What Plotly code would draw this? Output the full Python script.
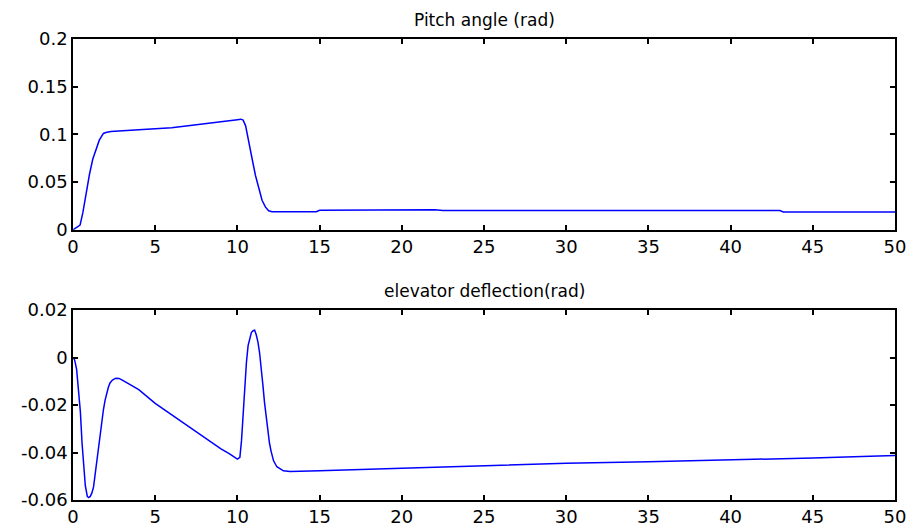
"""Pitch angle and elevator deflection response, MATLAB-style two-panel plot."""
import plotly.graph_objects as go

# --- data ---
t_pitch = [0, 0.2, 0.43, 0.6, 0.8, 1.0, 1.2, 1.44, 1.6, 1.85, 2.0, 2.3, 3, 4, 5, 6, 7, 8, 9,
           9.6, 10.0, 10.2, 10.35, 10.5, 10.7, 10.9, 11.1, 11.3, 11.5, 11.7, 11.9, 12.1,
           14.8, 15.0, 22.0, 22.5, 43.0, 43.2, 50]
pitch = [0, 0.002, 0.005, 0.018, 0.04, 0.058, 0.074, 0.087, 0.094, 0.101, 0.102, 0.103,
         0.104, 0.105, 0.106, 0.107, 0.109, 0.111, 0.113, 0.114, 0.1155, 0.116, 0.115,
         0.109, 0.093, 0.074, 0.057, 0.043, 0.031, 0.024, 0.020, 0.019,
         0.019, 0.0205, 0.021, 0.0202, 0.0202, 0.0188, 0.0188]

t_elev = [0, 0.1, 0.22, 0.35, 0.45, 0.55, 0.65, 0.75, 0.87, 0.95, 1.05, 1.15, 1.25, 1.35,
          1.45, 1.55, 1.65, 1.75, 1.85, 1.95, 2.05, 2.15, 2.25, 2.4, 2.6, 2.8, 3.0, 4.0,
          5.0, 6, 7, 8, 9, 9.5, 10.0, 10.15, 10.25, 10.35, 10.45, 10.55, 10.65, 10.75,
          10.85, 10.95, 11.05, 11.15, 11.25, 11.35, 11.45, 11.55, 11.65, 11.75, 11.85,
          11.95, 12.05, 12.2, 12.4, 12.6, 12.8, 13.2, 14, 15, 20, 25, 30, 35, 40, 45, 50]
elev = [0, -0.001, -0.005, -0.014, -0.023, -0.036, -0.047, -0.054, -0.0585, -0.059,
        -0.0585, -0.057, -0.0545, -0.049, -0.043, -0.037, -0.032, -0.027, -0.022, -0.018,
        -0.015, -0.0125, -0.0107, -0.0095, -0.0087, -0.0088, -0.0095, -0.0135, -0.0193,
        -0.0241, -0.0289, -0.0337, -0.0385, -0.0405, -0.0428, -0.042, -0.035, -0.024,
        -0.012, -0.002, 0.005, 0.0085, 0.0105, 0.0113, 0.0115, 0.0095, 0.0065, 0.002,
        -0.004, -0.0115, -0.019, -0.025, -0.031, -0.036, -0.0395, -0.0435, -0.046, -0.047,
        -0.0477, -0.048, -0.048, -0.0477, -0.0466, -0.0455, -0.0445, -0.0439, -0.0432,
        -0.0423, -0.0413]

x_ticks = [0, 5, 10, 15, 20, 25, 30, 35, 40, 45, 50]
pitch_ticks = [0, 0.05, 0.1, 0.15, 0.2]
pitch_labels = ["0", "0.05", "0.1", "0.15", "0.2"]
elev_ticks = [-0.06, -0.04, -0.02, 0, 0.02]
elev_labels = ["-0.06", "-0.04", "-0.02", "0", "0.02"]

titles = ["Pitch angle (rad)", "elevator deflection(rad)"]

FONT = "DejaVu Sans"
BLUE = "#0000ff"

fig = go.Figure()
fig.add_trace(go.Scatter(x=t_pitch, y=pitch, mode="lines", xaxis="x", yaxis="y",
                         line=dict(color=BLUE, width=1.5), showlegend=False))
fig.add_trace(go.Scatter(x=t_elev, y=elev, mode="lines", xaxis="x2", yaxis="y2",
                         line=dict(color=BLUE, width=1.5), showlegend=False))

axis_style = dict(showline=True, linecolor="black", linewidth=1.5, mirror="ticks",
                  ticks="inside", ticklen=5, tickwidth=1.5, tickcolor="black",
                  showgrid=False, zeroline=False, automargin=False,
                  tickfont=dict(family=FONT, size=18, color="black"))

fig.update_layout(
    width=911, height=527,
    margin=dict(l=73, r=16, t=39, b=27),
    paper_bgcolor="white", plot_bgcolor="white",
    xaxis=dict(domain=[0, 1], range=[0, 50], tickvals=x_ticks, anchor="y", **axis_style),
    yaxis=dict(domain=[0.586, 1], range=[0, 0.2], tickvals=pitch_ticks,
               ticktext=pitch_labels, anchor="x", **axis_style),
    xaxis2=dict(domain=[0, 1], range=[0, 50], tickvals=x_ticks, anchor="y2", **axis_style),
    yaxis2=dict(domain=[0, 0.412], range=[-0.06, 0.02], tickvals=elev_ticks,
                ticktext=elev_labels, anchor="x2", **axis_style),
    annotations=[
        dict(text=titles[0], x=0.5, xref="paper", y=1, yref="paper", yshift=7,
             yanchor="bottom", showarrow=False,
             font=dict(family=FONT, size=17, color="black")),
        dict(text=titles[1], x=0.5, xref="paper", y=0.412, yref="paper", yshift=7,
             yanchor="bottom", showarrow=False,
             font=dict(family=FONT, size=17, color="black")),
    ],
)

# drop the default 8px body margin so the 911x527 figure fills the window exactly
fig.write_html("out.html",
               config={"displayModeBar": False},
               post_script="document.body.style.margin='0';"
                           "document.body.style.overflow='hidden';")
